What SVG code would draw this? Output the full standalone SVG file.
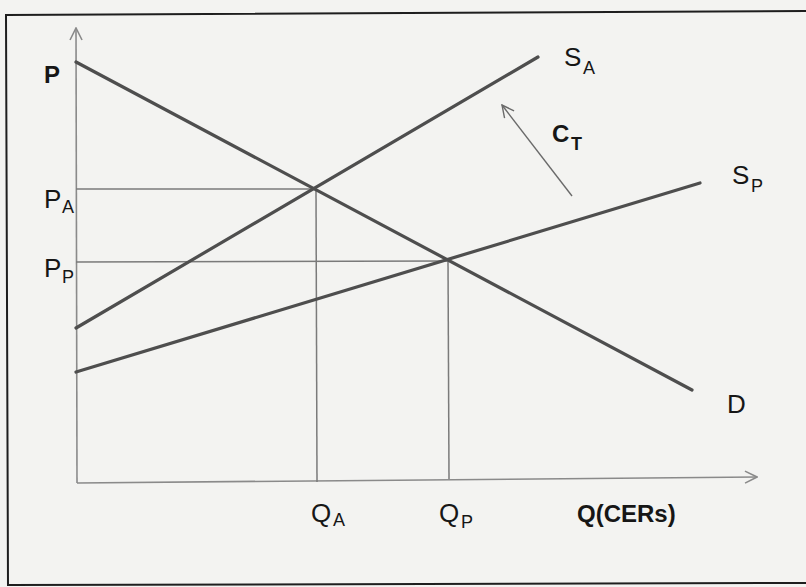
<svg xmlns="http://www.w3.org/2000/svg" width="806" height="587" viewBox="0 0 806 587">
<defs>
<style>
.bg{fill:#f3f3f1}
.frame{fill:none;stroke:#1e1e1e;stroke-width:2}
.axis{fill:none;stroke:#8a8a8a;stroke-width:1.6}
.guide{fill:none;stroke:#7a7a7a;stroke-width:1.5}
.curve{fill:none;stroke:#4e4e4e;stroke-width:3.2;stroke-linecap:round}
.shift{fill:none;stroke:#6a6a6a;stroke-width:1.4}
.lbl{font-family:"Liberation Sans",Arial,sans-serif;fill:#161616;font-size:26px}
.sub{font-family:"Liberation Sans",Arial,sans-serif;fill:#161616;font-size:18px}
.b{font-weight:bold}
.bl{font-size:24px}
</style>
<marker id="open" viewBox="0 0 14 14" refX="13" refY="7" markerWidth="14" markerHeight="14" markerUnits="userSpaceOnUse" orient="auto">
<path d="M1,1 L13,7 L1,13" fill="none" stroke="#8a8a8a" stroke-width="1.6"/>
</marker>
<marker id="openT" viewBox="0 0 14 14" refX="13" refY="7" markerWidth="14" markerHeight="14" markerUnits="userSpaceOnUse" orient="auto">
<path d="M1,1 L13,7 L1,13" fill="none" stroke="#6a6a6a" stroke-width="1.4"/>
</marker>
</defs>
<rect class="bg" x="0" y="0" width="806" height="587"/>
<path class="frame" d="M810,11 L6,15 L8,586"/>
<path class="frame" d="M8,585 L810,583"/>

<g id="connectors">
<path id="y-axis" class="axis" d="M77,483 L76,28" marker-end="url(#open)"/>
<path id="x-axis" class="axis" d="M77,483 L757,477" marker-end="url(#open)"/>
<path id="pa-guide" class="guide" d="M76,189 L315,189"/>
<path id="qa-guide" class="guide" d="M316,189 L317,482"/>
<path id="pp-guide" class="guide" d="M76,262 L447,261"/>
<path id="qp-guide" class="guide" d="M448,260 L449,479"/>
<path id="ct-arrow" class="shift" d="M572,196 L502,105" marker-end="url(#openT)"/>
</g>

<g id="curve-D"><path class="curve" d="M76,62 L692,390"/></g>
<g id="curve-SA"><path class="curve" d="M76,328 L538,57"/></g>
<g id="curve-SP"><path class="curve" d="M76,372 L700,183"/></g>

<g id="label-P"><text class="lbl b bl" x="44" y="83">P</text></g>
<g id="label-PA"><text class="lbl" x="44" y="208">P</text><text class="sub" x="62" y="213">A</text></g>
<g id="label-PP"><text class="lbl" x="44" y="277">P</text><text class="sub" x="62" y="283">P</text></g>
<g id="label-SA"><text class="lbl" x="564" y="66">S</text><text class="sub" x="583" y="74">A</text></g>
<g id="label-CT"><text class="lbl b bl" x="552" y="142">C</text><text class="sub b" x="571" y="150">T</text></g>
<g id="label-SP"><text class="lbl" x="732" y="184">S</text><text class="sub" x="751" y="192">P</text></g>
<g id="label-D"><text class="lbl" x="727" y="413">D</text></g>
<g id="label-QA"><text class="lbl" x="311" y="522">Q</text><text class="sub" x="333" y="526">A</text></g>
<g id="label-QP"><text class="lbl" x="439" y="522">Q</text><text class="sub" x="461" y="528">P</text></g>
<g id="label-Q"><text class="lbl b bl" x="577" y="522">Q(CERs)</text></g>
</svg>
